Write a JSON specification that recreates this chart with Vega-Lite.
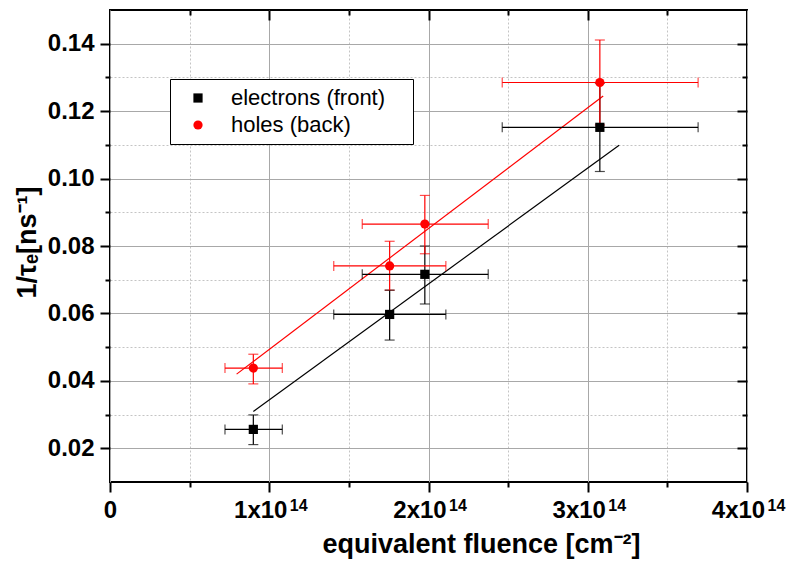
{
  "$schema": "https://vega.github.io/schema/vega-lite/v6.json",
  "width": 637,
  "height": 472,
  "autosize": {"type": "none"},
  "padding": {"left": 110, "top": 10, "right": 39, "bottom": 79},
  "background": "white",
  "config": {
    "font": "Liberation Sans",
    "view": {"stroke": "black", "strokeWidth": 2},
    "axis": {"domain": false, "tickColor": "black", "tickWidth": 2, "labelColor": "black", "titleColor": "black"}
  },
  "datasets": {
    "pts": [
      {"series": "electrons (front)", "x": 9.0e13, "y": 0.0256, "xlo": 7.22e13, "xhi": 1.082e14, "ylo": 0.0211, "yhi": 0.0299},
      {"series": "electrons (front)", "x": 1.756e14, "y": 0.0597, "xlo": 1.405e14, "xhi": 2.109e14, "ylo": 0.0521, "yhi": 0.0669},
      {"series": "electrons (front)", "x": 1.977e14, "y": 0.0716, "xlo": 1.584e14, "xhi": 2.375e14, "ylo": 0.0628, "yhi": 0.0800},
      {"series": "electrons (front)", "x": 3.076e14, "y": 0.1152, "xlo": 2.463e14, "xhi": 3.693e14, "ylo": 0.1021, "yhi": 0.1283},
      {"series": "holes (back)", "x": 9.0e13, "y": 0.0438, "xlo": 7.22e13, "xhi": 1.082e14, "ylo": 0.0391, "yhi": 0.0479},
      {"series": "holes (back)", "x": 1.756e14, "y": 0.0741, "xlo": 1.405e14, "xhi": 2.109e14, "ylo": 0.0669, "yhi": 0.0814},
      {"series": "holes (back)", "x": 1.977e14, "y": 0.0865, "xlo": 1.584e14, "xhi": 2.375e14, "ylo": 0.0777, "yhi": 0.0950},
      {"series": "holes (back)", "x": 3.076e14, "y": 0.1285, "xlo": 2.463e14, "xhi": 3.693e14, "ylo": 0.1159, "yhi": 0.1411}
    ],
    "fit": [
      {"series": "electrons (front)", "x": 9.0e13, "y": 0.0309},
      {"series": "electrons (front)", "x": 3.197e14, "y": 0.1099},
      {"series": "holes (back)", "x": 7.95e13, "y": 0.042},
      {"series": "holes (back)", "x": 3.097e14, "y": 0.1245}
    ]
  },
  "layer": [
    {
      "data": {"name": "pts"},
      "mark": {"type": "point", "opacity": 0},
      "encoding": {
        "x": {"field": "x", "type": "quantitative", "scale": {"domain": [0, 4e14], "nice": false, "zero": false},
          "axis": {"orient": "bottom", "values": [5e13, 1.5e14, 2.5e14, 3.5e14], "labels": false, "title": null, "grid": true, "gridDash": [2, 2], "gridColor": "#c4c4c4", "gridWidth": 1, "tickSize": 5}},
        "y": {"field": "y", "type": "quantitative", "scale": {"domain": [0.01, 0.15], "nice": false, "zero": false},
          "axis": {"orient": "left", "values": [0.03, 0.05, 0.07, 0.09, 0.11, 0.13], "labels": false, "title": null, "grid": true, "gridDash": [2, 2], "gridColor": "#c4c4c4", "gridWidth": 1, "tickSize": 5}}
      }
    },
    {
      "data": {"name": "pts"},
      "mark": {"type": "point", "opacity": 0},
      "encoding": {
        "x": {"field": "x", "type": "quantitative", "scale": {"domain": [0, 4e14], "nice": false, "zero": false},
          "axis": {"orient": "bottom", "values": [0, 1e14, 2e14, 3e14, 4e14], "labelExpr": "datum.value == 0 ? '0' : format(datum.value / 1e14, 'd') + 'x10'", "labelFont": "Liberation Sans", "labelFontWeight": "bold", "labelFontSize": 24, "labelPadding": 6, "labelFlush": false, "labelOverlap": false,
            "labelOffset": {"condition": {"test": "datum.value == 0", "value": 0}, "value": -9},
            "grid": true, "gridColor": "#a8a8a8", "gridWidth": 1, "tickSize": 10,
            "title": "equivalent fluence [cm⁻²]", "titleFont": "Liberation Sans", "titleFontWeight": "bold", "titleFontSize": 27, "titleX": 371, "titleY": 70, "titleBaseline": "alphabetic", "titleAlign": "center", "titleAnchor": null}},
        "y": {"field": "y", "type": "quantitative", "scale": {"domain": [0.01, 0.15], "nice": false, "zero": false},
          "axis": {"orient": "left", "values": [0.02, 0.04, 0.06, 0.08, 0.1, 0.12, 0.14], "format": ".2f", "labelFont": "Liberation Sans", "labelFontWeight": "bold", "labelFontSize": 24, "labelPadding": 6, "labelOverlap": false,
            "grid": true, "gridColor": "#a8a8a8", "gridWidth": 1, "tickSize": 10,
            "title": "1/τₑ[ns⁻¹]", "titleFont": "Liberation Sans", "titleFontWeight": "bold", "titleFontSize": 27, "titleX": -75, "titleY": 232, "titleAngle": 270, "titleBaseline": "alphabetic", "titleAlign": "center", "titleAnchor": null}}
      }
    },
    {
      "data": {"name": "pts"},
      "mark": {"type": "point", "opacity": 0},
      "encoding": {
        "x": {"field": "x", "type": "quantitative", "scale": {"domain": [0, 4e14], "nice": false, "zero": false},
          "axis": {"orient": "bottom", "values": [1e14, 2e14, 3e14, 4e14], "labelExpr": "'14'", "labelFont": "Liberation Sans", "labelFontWeight": "bold", "labelFontSize": 16, "labelPadding": 15, "labelOffset": 29, "labelFlush": false, "labelOverlap": false, "ticks": false, "tickSize": 0, "grid": false, "title": null}},
        "y": {"field": "y", "type": "quantitative", "scale": {"domain": [0.01, 0.15], "nice": false, "zero": false}, "axis": null}
      }
    },
    {
      "data": {"name": "pts"},
      "mark": {"type": "point", "opacity": 0},
      "encoding": {
        "x": {"field": "x", "type": "quantitative", "scale": {"domain": [0, 4e14], "nice": false, "zero": false},
          "axis": {"orient": "top", "values": [5e13, 1.5e14, 2.5e14, 3.5e14], "labels": false, "title": null, "grid": false, "tickSize": 5, "offset": -5}},
        "y": {"field": "y", "type": "quantitative", "scale": {"domain": [0.01, 0.15], "nice": false, "zero": false},
          "axis": {"orient": "right", "values": [0.03, 0.05, 0.07, 0.09, 0.11, 0.13], "labels": false, "title": null, "grid": false, "tickSize": 5, "offset": -5}}
      }
    },
    {
      "data": {"name": "pts"},
      "mark": {"type": "point", "opacity": 0},
      "encoding": {
        "x": {"field": "x", "type": "quantitative", "scale": {"domain": [0, 4e14], "nice": false, "zero": false},
          "axis": {"orient": "top", "values": [1e14, 2e14, 3e14], "labels": false, "title": null, "grid": false, "tickSize": 10, "offset": -10}},
        "y": {"field": "y", "type": "quantitative", "scale": {"domain": [0.01, 0.15], "nice": false, "zero": false},
          "axis": {"orient": "right", "values": [0.02, 0.04, 0.06, 0.08, 0.1, 0.12, 0.14], "labels": false, "title": null, "grid": false, "tickSize": 10, "offset": -10}}
      }
    },
    {
      "data": {"name": "fit"},
      "mark": {"type": "line", "strokeWidth": 1.2},
      "encoding": {
        "x": {"field": "x", "type": "quantitative", "scale": {"domain": [0, 4e14], "nice": false, "zero": false}, "axis": null},
        "y": {"field": "y", "type": "quantitative", "scale": {"domain": [0.01, 0.15], "nice": false, "zero": false}, "axis": null},
        "color": {"field": "series", "type": "nominal", "scale": {"domain": ["electrons (front)", "holes (back)"], "range": ["#000000", "#ff0000"]}, "legend": null}
      }
    },
    {
      "data": {"name": "pts"},
      "mark": {"type": "errorbar", "ticks": {"size": 10}, "thickness": 1.2},
      "encoding": {
        "x": {"field": "x", "type": "quantitative", "scale": {"domain": [0, 4e14], "nice": false, "zero": false}, "axis": null},
        "y": {"field": "ylo", "type": "quantitative", "scale": {"domain": [0.01, 0.15], "nice": false, "zero": false}, "axis": null},
        "y2": {"field": "yhi"},
        "color": {"field": "series", "type": "nominal", "scale": {"domain": ["electrons (front)", "holes (back)"], "range": ["#000000", "#ff0000"]}, "legend": null}
      }
    },
    {
      "data": {"name": "pts"},
      "mark": {"type": "errorbar", "ticks": {"size": 10}, "thickness": 1.2},
      "encoding": {
        "x": {"field": "xlo", "type": "quantitative", "scale": {"domain": [0, 4e14], "nice": false, "zero": false}, "axis": null},
        "x2": {"field": "xhi"},
        "y": {"field": "y", "type": "quantitative", "scale": {"domain": [0.01, 0.15], "nice": false, "zero": false}, "axis": null},
        "color": {"field": "series", "type": "nominal", "scale": {"domain": ["electrons (front)", "holes (back)"], "range": ["#000000", "#ff0000"]}, "legend": null}
      }
    },
    {
      "data": {"name": "pts"},
      "mark": {"type": "point", "filled": true, "size": 85, "opacity": 1},
      "encoding": {
        "x": {"field": "x", "type": "quantitative", "scale": {"domain": [0, 4e14], "nice": false, "zero": false}, "axis": null},
        "y": {"field": "y", "type": "quantitative", "scale": {"domain": [0.01, 0.15], "nice": false, "zero": false}, "axis": null},
        "color": {"field": "series", "type": "nominal", "scale": {"domain": ["electrons (front)", "holes (back)"], "range": ["#000000", "#ff0000"]},
          "legend": {"title": "\u00a0", "titleOrient": "right", "titleFontSize": 1, "titlePadding": 20, "orient": "none", "legendX": 60, "legendY": 69, "strokeColor": "black", "fillColor": "white", "padding": 8, "labelFont": "Liberation Sans", "labelFontSize": 22, "labelColor": "black", "symbolSize": 85, "symbolOffset": 9, "labelOffset": 22, "rowPadding": 5, "symbolStrokeWidth": 0, "symbolOpacity": 1}},
        "shape": {"field": "series", "type": "nominal", "scale": {"domain": ["electrons (front)", "holes (back)"], "range": ["square", "circle"]},
          "legend": {"title": "\u00a0", "titleOrient": "right", "titleFontSize": 1, "titlePadding": 20, "orient": "none", "legendX": 60, "legendY": 69, "strokeColor": "black", "fillColor": "white", "padding": 8, "labelFont": "Liberation Sans", "labelFontSize": 22, "labelColor": "black", "symbolSize": 85, "symbolOffset": 9, "labelOffset": 22, "rowPadding": 5, "symbolStrokeWidth": 0, "symbolOpacity": 1}}
      }
    }
  ],
  "resolve": {"axis": {"x": "independent", "y": "independent"}, "legend": {"color": "independent", "shape": "independent"}}
}
